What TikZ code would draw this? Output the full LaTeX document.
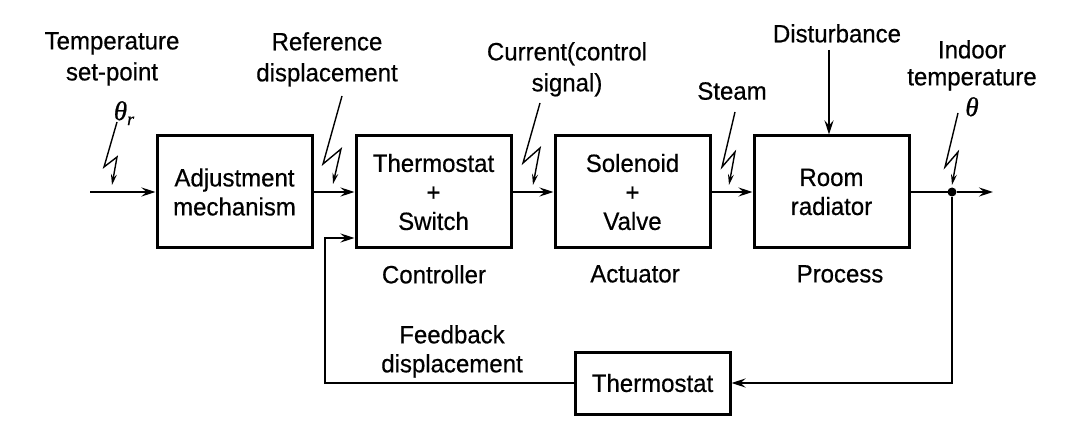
\documentclass[tikz,border=0pt]{standalone}
\usepackage{fontspec}
\setmainfont[FakeStretch=0.96,FakeBold=0.5]{Liberation Sans}
\newfontfamily\grkfont[FakeBold=0.8]{Liberation Serif}
\usetikzlibrary{arrows.meta,calc}

\begin{document}
\begin{tikzpicture}[x=1pt,y=-1pt,
font=\fontsize{25}{29}\selectfont,
block/.style={draw, line width=3pt, minimum width=155pt, minimum height=112pt, align=center, inner sep=0pt},
lbl/.style={align=center, anchor=north, inner sep=0pt, font=\fontsize{25}{31}\selectfont},
sym/.style={anchor=north, inner sep=0pt, font=\grkfont\itshape\fontsize{27}{27}\selectfont},
sig/.style={line width=2.6pt, -{Stealth[length=14pt,width=9pt,inset=5pt]}},
bolt/.style={line width=1.4pt, -{Stealth[length=11pt,width=6pt,inset=4pt]}}]
\useasboundingbox (0,0) rectangle (1086,430);
% blocks of the loop
\node[block] (adj) at (234.5,192) {Adjustment\\mechanism};
\node[block] (ctrl) at (433.5,192) {Thermostat\\+\\Switch};
\node[block] (act) at (632.5,192) {Solenoid\\+\\Valve};
\node[block] (proc) at (831.5,192) {Room\\radiator};
\node[block, minimum height=62pt] (fb) at (652.5,383) {Thermostat};
\node[circle, fill, inner sep=0pt, minimum size=9pt] (dot) at (952,192) {};
\coordinate (in) at (90,192);
\coordinate (out) at (993,192);
\coordinate (fbturn) at (325,238);
\coordinate (fbin) at ($(ctrl.west)+(0,46)$);
\coordinate (dtop) at (829,50);
% labels
\node[lbl] (tsp) at (112,32) {Temperature\\set-point};
\node[sym] (thr) at (124,101) {θ\raisebox{-5pt}{\fontsize{18}{18}\selectfont r}};
\node[lbl] (refd) at (327,32) {Reference\\displacement};
\node[lbl] (cur) at (567,42) {Current(control\\signal)};
\node[lbl] (stm) at (732,82) {Steam};
\node[lbl] (dist) at (837,24) {Disturbance};
\node[lbl, font=\fontsize{25}{27}\selectfont] (indoor) at (972,40) {Indoor\\temperature};
\node[sym] (th) at (972,97) {θ};
\node[lbl] (ctl) at (434,265) {Controller};
\node[lbl] (actl) at (635,265) {Actuator};
\node[lbl] (procl) at (840,265) {Process};
\node[lbl, font=\fontsize{25}{29}\selectfont] (fbl) at (452,325) {Feedback\\displacement};
% signal lines
\draw[sig] (in) -- (adj);
\draw[sig] (adj) -- (ctrl);
\draw[sig] (ctrl) -- (act);
\draw[sig] (act) -- (proc);
\draw[line width=2.6pt] (proc) -- (dot.center);
\draw[sig] (dot) -- (out);
\draw[sig] (dtop) -- (dtop |- proc.north);
\draw[sig] (dot) |- (fb);
\draw[sig] (fb) -| (fbturn) -- (fbin);
% zigzag pointers
\coordinate (z1) at (112,185);
\coordinate (z2) at (333,184);
\coordinate (z3) at (533,185);
\coordinate (z4) at (729,185);
\coordinate (z5) at (952,185);
\draw[bolt] ($(z1)+(5,-63)$) -- ($(z1)+(-8,-18)$) -- ($(z1)+(5,-28)$) -- (z1);
\draw[bolt] ($(z2)+(9,-88)$) -- ($(z2)+(-10,-20)$) -- ($(z2)+(8,-35)$) -- (z2);
\draw[bolt] ($(z3)+(7,-82)$) -- ($(z3)+(-10,-22)$) -- ($(z3)+(7,-37)$) -- (z3);
\draw[bolt] ($(z4)+(6,-73)$) -- ($(z4)+(-7,-18)$) -- ($(z4)+(6,-33)$) -- (z4);
\draw[bolt] ($(z5)+(6,-72)$) -- ($(z5)+(-7,-18)$) -- ($(z5)+(6,-33)$) -- (z5);
\end{tikzpicture}
\end{document}
